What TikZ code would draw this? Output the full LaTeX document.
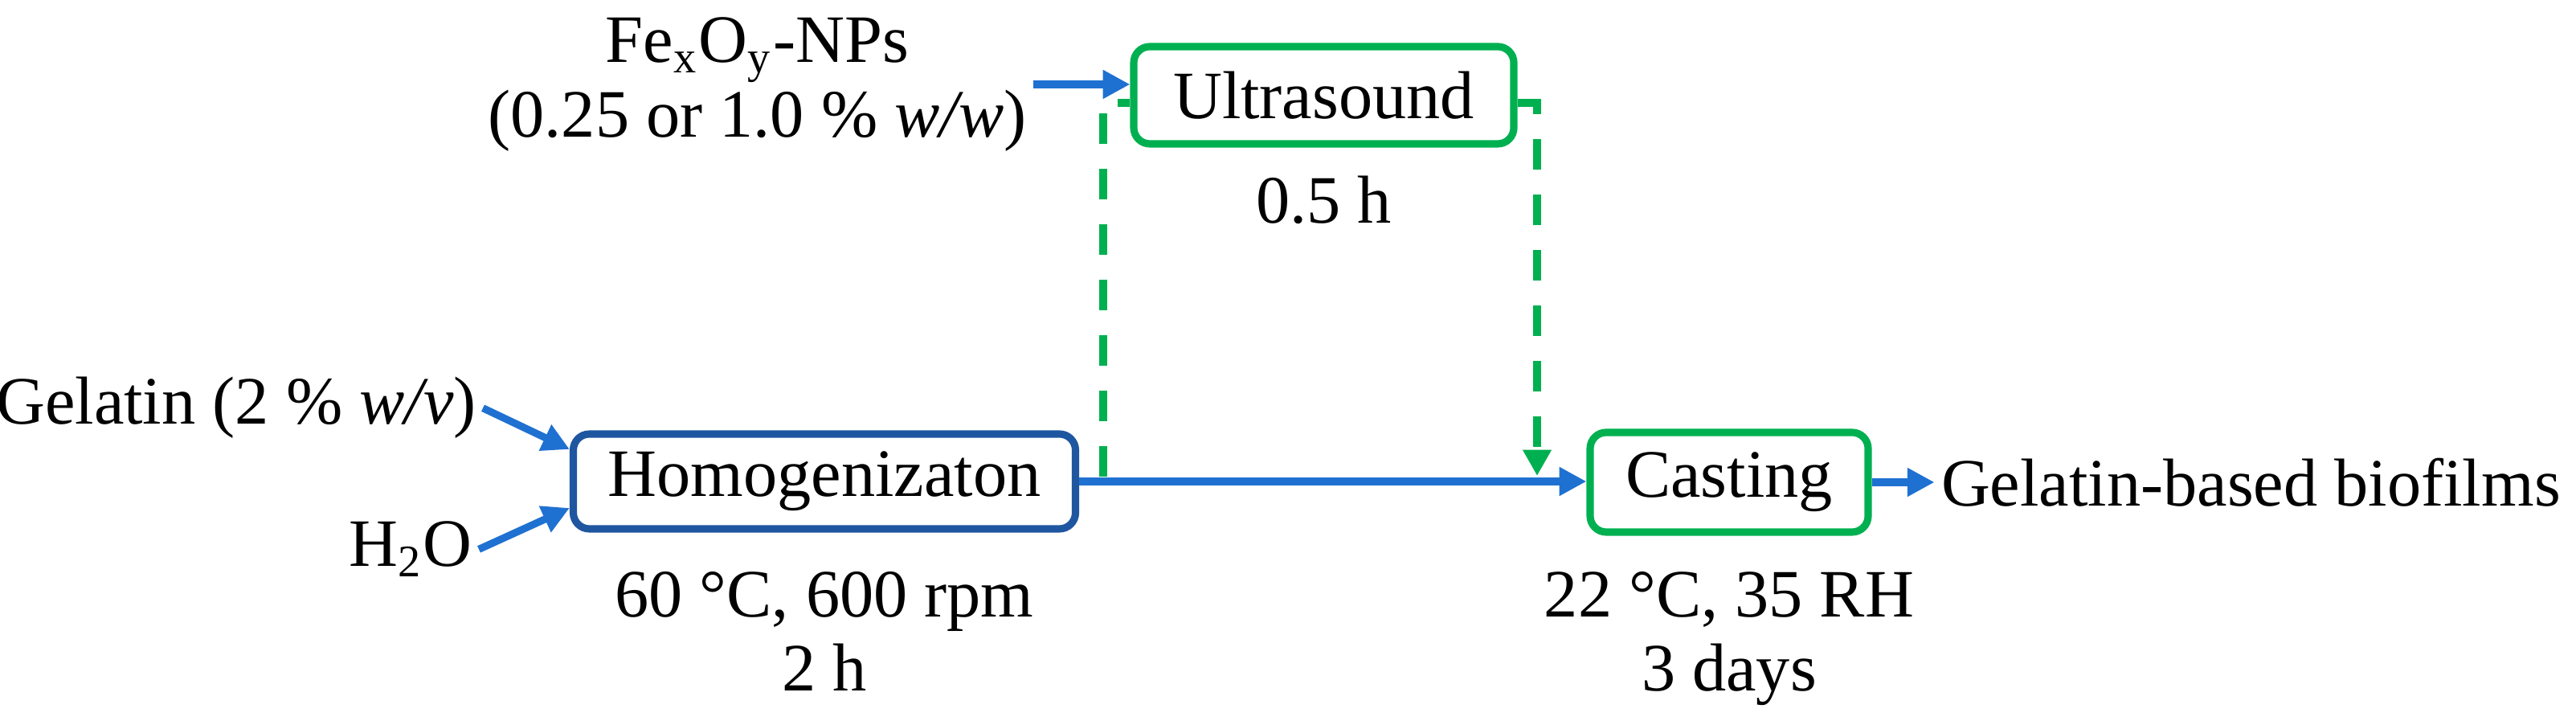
\documentclass[tikz,border=0pt]{standalone}
\usepackage{fontspec}
\setmainfont{Liberation Serif}
\usetikzlibrary{arrows.meta,positioning}

\definecolor{flowblue}{RGB}{31,113,209}
\definecolor{boxblue}{RGB}{31,86,160}
\definecolor{flowgreen}{RGB}{0,176,80}

\tikzset{
    every node/.style={font=\fontsize{12}{13.2}\selectfont},
    txt/.style={inner sep=1pt, align=center},
    procbox/.style={draw, rounded corners=0.1cm, line width=1.3pt, inner sep=0pt},
    flow/.style={flowblue, line width=1.3pt, -{Triangle[length=4.8pt,width=4.8pt]}},
    greendash/.style={flowgreen, line width=1.3pt, dash pattern=on 0.19cm off 0.155cm}
}

\begin{document}
\begin{tikzpicture}
    \useasboundingbox (0,0) rectangle (16.03,4.485);
    % process boxes
    \node[procbox, boxblue, minimum width=3.125cm, minimum height=0.59cm] (homog) at (5.13,1.49) {\color{black}Homogenizaton};
    \node[procbox, flowgreen, minimum width=2.365cm, minimum height=0.605cm] (ultra) at (8.2375,3.8925) {\color{black}Ultrasound};
    \node[procbox, flowgreen, minimum width=1.73cm, minimum height=0.62cm] (cast) at (10.76,1.485) {\color{black}Casting};
    % inputs and conditions
    \node[txt, anchor=base east] (gel) at (3.005,1.845) {Gelatin (2 \% \textit{w/v})};
    \node[txt, anchor=base east] (water) at (2.98,0.96) {H\textsubscript{2}O};
    \node[txt, anchor=east] (nps) at (6.43,3.96) {Fe\textsubscript{x}O\textsubscript{y}-NPs\\(0.25 or 1.0 \% \textit{w/w})};
    \node[txt, below=0.2cm of homog] (homogcond) {60 °C, 600 rpm\\2 h};
    \node[txt, below=0.135cm of ultra] (ultracond) {0.5 h};
    \node[txt, below=0.18cm of cast] (castcond) {22 °C, 35 RH\\3 days};
    \node[txt, right=0.39cm of cast] (films) {Gelatin-based biofilms};
    % solid flow
    \draw[flow] (gel.east) -- ([yshift=0.2cm]homog.west);
    \draw[flow] (water.east) -- ([yshift=-0.165cm]homog.west);
    \draw[flow] (nps.east) -- (nps.east -| ultra.west);
    \draw[flow] (homog.east) -- (homog.east -| cast.west);
    \draw[flow] (cast.east) -- (films.west);
    % ultrasound branch
    \coordinate (tap) at (6.865,1.52);
    \coordinate (drop) at (9.565,1.525);
    \draw[greendash] (tap) |- ([yshift=-0.0475cm]ultra.west);
    \draw[greendash, -{Triangle[length=4.6pt,width=4.8pt]}] ([yshift=-0.0475cm]ultra.east) -| (drop);
\end{tikzpicture}
\end{document}
